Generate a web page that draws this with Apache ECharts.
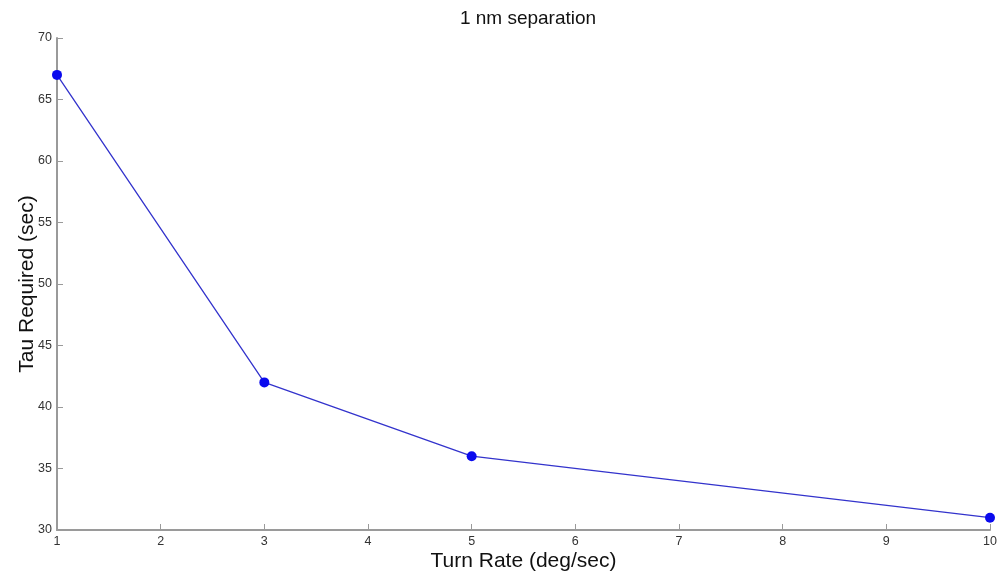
<!DOCTYPE html>
<html><head><meta charset="utf-8">
<script src="https://cdn.jsdelivr.net/npm/echarts@6/dist/echarts.min.js"></script>
<style>html,body{margin:0;padding:0;background:#fff}#c{width:999px;height:575px}</style>
</head><body><div id="c"></div>
<script>
const turnRate = [1, 3, 5, 10];
const tauRequired = [67, 42, 36, 31];
const xTicks = [1,2,3,4,5,6,7,8,9,10];
const yTicks = [30,35,40,45,50,55,60,65,70];
const chart = echarts.init(document.getElementById('c'));
const axisCol = '#9a9a9a';
chart.setOption({
  animation: false,
  title: {text: '1 nm separation', left: 523, top: 4, textAlign: 'center',
    textStyle: {fontFamily: 'Liberation Sans, Arial', fontSize: 19, fontWeight: 'normal', color: '#111'}},
  grid: {left: 57, right: 9, top: 38, bottom: 45, containLabel: false, outerBoundsMode: 'none'},
  xAxis: {type: 'value', min: 1, max: 10, interval: 1,
    name: 'Turn Rate (deg/sec)', nameLocation: 'middle', nameGap: 21, nameMoveOverlap: false,
    nameTextStyle: {fontFamily: 'Liberation Sans, Arial', fontSize: 21, color: '#111'},
    axisLine: {lineStyle: {color: axisCol, width: 2}},
    axisTick: {inside: true, length: 6, lineStyle: {color: axisCol}},
    axisLabel: {margin: 5, fontFamily: 'Liberation Sans, Arial', fontSize: 12.5, color: '#333'},
    splitLine: {show: false}},
  yAxis: {type: 'value', min: 30, max: 70, interval: 5,
    name: 'Tau Required (sec)', nameLocation: 'middle', nameGap: 19, nameMoveOverlap: false,
    nameTextStyle: {fontFamily: 'Liberation Sans, Arial', fontSize: 21, color: '#111'},
    axisLine: {show: true, lineStyle: {color: axisCol, width: 2}},
    axisTick: {show: true, inside: true, length: 6, lineStyle: {color: axisCol}},
    axisLabel: {margin: 5, fontFamily: 'Liberation Sans, Arial', fontSize: 12.5, color: '#333'},
    splitLine: {show: false}},
  series: [{type: 'line', data: turnRate.map((x, i) => [x, tauRequired[i]]),
    symbol: 'circle', symbolSize: 10,
    itemStyle: {color: '#0a0aee'},
    lineStyle: {color: '#3333cc', width: 1.3}}]
});
</script></body></html>
